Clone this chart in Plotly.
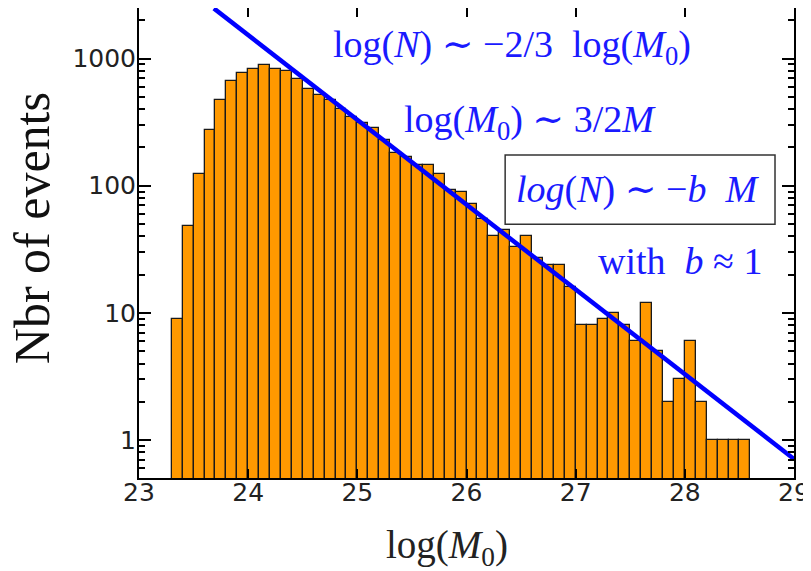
import plotly.graph_objects as go

# Histogram bins (left edges of 0.1-wide bins) and counts
bin_left = [round(23.3 + 0.1 * i, 1) for i in range(53)]
counts = [9, 48, 123, 276, 469, 665, 768, 821, 883, 821,
          796, 685, 575, 520, 469, 403, 347, 311, 284, 227,
          181, 168, 145, 145, 123, 92, 89, 72, 55, 40,
          45, 33, 40, 27, 24, 24, 16, 8, 8, 9,
          10, 8, 6, 12, 5, 2, 3, 6, 2, 1,
          1, 1, 1]
bin_width = 0.1

# Power-law guide line endpoints (slope -2/3 in log10 N vs log M0)
line_x = [23.686, 29.0]
line_y = [2477, 0.71]

x_ticks = [23, 24, 25, 26, 27, 28, 29]
y_ticks = [1, 10, 100, 1000]
y_tick_labels = ["1", "10", "100", "1000"]
minor_y = [m * d for d in [0.1, 1, 10, 100, 1000] for m in range(2, 10)]

BLUE = "#1a1aff"
SERIF = "Liberation Serif, DejaVu Serif, serif"
SANS = "DejaVu Sans, Arial, sans-serif"

fig = go.Figure()
fig.add_trace(go.Bar(
    x=[b + bin_width / 2 for b in bin_left], y=counts, width=bin_width,
    marker=dict(color="#ff9900", line=dict(color="#1a1a1a", width=1.3)),
    showlegend=False,
))
fig.add_trace(go.Scatter(
    x=line_x, y=line_y, mode="lines",
    line=dict(color="#0000ff", width=4.5), showlegend=False,
))

axis_common = dict(
    showline=True, linecolor="black", linewidth=2, mirror="allticks",
    ticks="inside", tickcolor="black", showgrid=False, zeroline=False,
    automargin=False, layer="above traces",
    tickfont=dict(family=SANS, size=25, color="#222"),
)
fig.update_xaxes(range=[23, 29], tickmode="array", tickvals=x_ticks, ticklen=9, tickwidth=1.8,
                 ticklabelstandoff=-9, **axis_common)
fig.update_yaxes(type="log", range=[-0.298, 3.397], tickmode="array", tickvals=y_ticks,
                 ticktext=y_tick_labels, ticklen=12, tickwidth=1.8, ticklabelstandoff=-4,
                 minor=dict(ticks="inside", ticklen=6, tickwidth=1.5, tickcolor="black",
                            tickmode="array", tickvals=minor_y, showgrid=False),
                 **axis_common)

fig.add_shape(type="rect", xref="paper", yref="paper", x0=0.559, x1=0.971, y0=0.540, y1=0.687,
              line=dict(color="#333", width=1.5), fillcolor="white", layer="above")

ann = [
    (0.569, 0.917, "log(<i>N</i>) ∼ −2/3  log(<i>M</i><sub>0</sub>)"),
    (0.597, 0.757, "log(<i>M</i><sub>0</sub>) ∼ 3/2<i>M</i>"),
    (0.762, 0.613, "<i>log</i>(<i>N</i>) ∼ −<i>b  M</i>"),
    (0.826, 0.462, "with  <i>b</i> ≈ 1"),
]
for x, y, t in ann:
    fig.add_annotation(x=x, y=y, xref="paper", yref="paper", text=t, showarrow=False,
                       font=dict(family=SERIF, size=38, color=BLUE), xanchor="center", yanchor="middle")

# axis titles as annotations (placed as in the reference)
fig.add_annotation(x=-0.163, y=0.532, xref="paper", yref="paper", text="Nbr of events",
                   textangle=-90, showarrow=False, xanchor="center", yanchor="middle",
                   font=dict(family=SERIF, size=50, color="#111"))
fig.add_annotation(x=0.4695, y=-0.147, xref="paper", yref="paper",
                   text="log(<i>M</i><sub>0</sub>)", showarrow=False,
                   xanchor="center", yanchor="middle",
                   font=dict(family=SERIF, size=39, color="#222"))

# page body has an 8px margin; figure sized so plot area lands where the reference has it
fig.update_layout(
    width=803, height=563,
    margin=dict(l=131, r=17, t=0, b=93, autoexpand=False),
    plot_bgcolor="white", paper_bgcolor="white",
    bargap=0,
)
fig.write_html("out.html")
